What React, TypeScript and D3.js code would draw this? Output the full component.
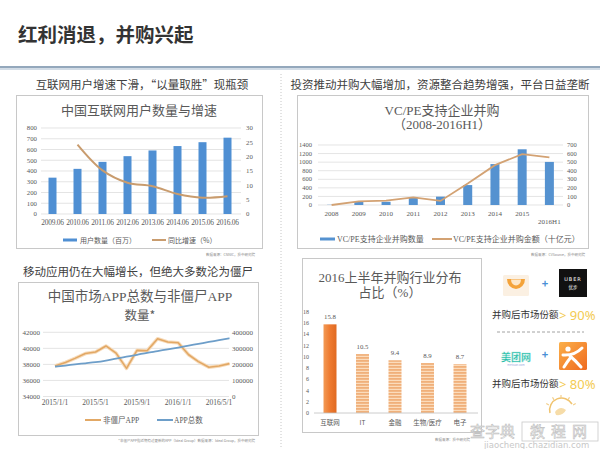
import React from "react";
import * as d3 from "d3";

const CJK = "'Noto Sans CJK SC', 'Noto Sans', sans-serif";
const SERIF = "'Liberation Serif', 'DejaVu Serif', 'Noto Sans CJK SC', serif";

// ---- Chart 1: 中国互联网用户数量与增速
const userCats = ["2009.06", "2010.06", "2011.06", "2012.06", "2013.06", "2014.06", "2015.06", "2016.06"];
const userCounts = [338, 420, 485, 538, 591, 632, 668, 710];
const userGrowth: (number | null)[] = [null, 24.2, 15.2, 10.9, 9.7, 7.0, 5.7, 6.2];

// ---- Chart 2: VC/PE支持企业并购
const mnaYears = ["2008", "2009", "2010", "2011", "2012", "2013", "2014", "2015", "2016H1"];
const mnaCount = [5, 70, 75, 175, 195, 465, 955, 1300, 1005];
const mnaAmount = [0, 43, 50, 88, 48, 250, 465, 593, 555];

// ---- Chart 3: 中国市场APP总数与非僵尸APP数量
const appMonths = [
  "2015/1/1", "2015/2/1", "2015/3/1", "2015/4/1", "2015/5/1", "2015/6/1",
  "2015/7/1", "2015/8/1", "2015/9/1", "2015/10/1", "2015/11/1", "2015/12/1",
  "2016/1/1", "2016/2/1", "2016/3/1", "2016/4/1", "2016/5/1", "2016/6/1",
];
const nonZombieApps = [37800, 38250, 38750, 39350, 39550, 40300, 39400, 37500, 39750, 39700, 41200, 40800, 40700, 39200, 38350, 37650, 37800, 38100];
const totalApps = [186000, 193000, 200000, 207000, 214000, 224000, 236000, 248000, 260000, 272000, 283000, 294000, 305000, 317000, 328000, 340000, 351000, 363000];
const appTickLabels = ["2015/1/1", "2015/5/1", "2015/9/1", "2016/1/1", "2016/5/1"];

// ---- Chart 4: 2016上半年并购行业分布占比
const industries = ["互联网", "IT", "金融", "生物/医疗", "电子"];
const industryShares = [15.8, 10.5, 9.4, 8.9, 8.7];

const parseDate = (s: string) => {
  const [y, m, d] = s.split("/").map(Number);
  return new Date(y, m - 1, d);
};

export default function App() {
  // Chart 1 scales
  const x1 = d3.scaleBand<string>().domain(userCats).range([40, 240]).paddingInner(0.68).paddingOuter(0.34);
  const y1 = d3.scaleLinear().domain([0, 800]).range([214, 128]);
  const y1r = d3.scaleLinear().domain([0, 30]).range([214, 128]);
  const c1 = (c: string) => (x1(c) as number) + x1.bandwidth() / 2;
  const line1 = d3
    .line<number | null>()
    .defined((d) => d != null)
    .x((_, i) => c1(userCats[i]))
    .y((d) => y1r(d as number))
    .curve(d3.curveCatmullRom.alpha(0.5));

  // Chart 2 scales
  const x2 = d3.scaleBand<string>().domain(mnaYears).range([318, 563]).paddingInner(0.67).paddingOuter(0.335);
  const y2 = d3.scaleLinear().domain([0, 1400]).range([205, 145]);
  const y2r = d3.scaleLinear().domain([0, 700]).range([205, 145]);
  const c2 = (c: string) => (x2(c) as number) + x2.bandwidth() / 2;
  const line2 = d3
    .line<number>()
    .x((_, i) => c2(mnaYears[i]))
    .y((d) => y2r(d));

  // Chart 3 scales
  const x3 = d3.scaleTime().domain([parseDate("2015/1/1"), parseDate("2016/5/1")]).range([55, 219]);
  const y3 = d3.scaleLinear().domain([34000, 42000]).range([396.5, 332.3]);
  const y3r = d3.scaleLinear().domain([0, 400000]).range([396.5, 332.3]);
  const dates3 = appMonths.map(parseDate);
  const lineNZ = d3
    .line<number>()
    .x((_, i) => x3(dates3[i]))
    .y((d) => y3(d));
  const lineTot = d3
    .line<number>()
    .x((_, i) => x3(dates3[i]))
    .y((d) => y3r(d))
    .curve(d3.curveMonotoneX);

  // Chart 4 scales
  const x4 = d3.scaleBand<string>().domain(industries).range([313.75, 476.25]).paddingInner(0.6).paddingOuter(0.3);
  const y4 = d3.scaleLinear().domain([0, 18]).range([413, 312]);

  const tickColor = "#595959";
  const gridColor = "#d9d9d9";

  return (
    <svg
      width={600}
      height={449}
      viewBox="0 0 600 449"
      style={{ position: "absolute", left: 0, top: 0, background: "#fff" }}
    >
      <defs>
        <linearGradient id="bar1grad" x1="0" x2="1" y1="0" y2="0">
          <stop offset="0" stopColor="#f39a55" />
          <stop offset="0.5" stopColor="#ee7a30" />
          <stop offset="1" stopColor="#e06a22" />
        </linearGradient>
        <pattern id="stripe" width="4" height="3" patternUnits="userSpaceOnUse">
          <rect width="4" height="3" fill="#fbdcbc" />
          <rect width="4" height="1.8" fill="#f0b07a" />
        </pattern>
        <linearGradient id="dpgrad" x1="0" x2="1" y1="0" y2="1">
          <stop offset="0" stopColor="#fbb04a" />
          <stop offset="1" stopColor="#ef6a1f" />
        </linearGradient>
      </defs>
      <rect x={0} y={0} width={600} height={449} fill="#fff" />

      {/* Header */}
      <text x={18} y={42} fontFamily={CJK} fontSize={19.5} fontWeight={700} fill="#333">
        红利消退，并购兴起
      </text>
      <rect x={0} y={66} width={600} height={2} fill="#94a8bc" />
      <rect x={0} y={68} width={600} height={2} fill="#d2dce6" />

      {/* separator */}
      <line x1={281} x2={281} y1={74} y2={449} stroke="#c6c6c6" strokeDasharray="1,2" />

      {/* ================= Chart 1 ================= */}
      <text x={142} y={89} textAnchor="middle" fontFamily={CJK} fontSize={11.5} fill="#404040">
        互联网用户增速下滑，“以量取胜”现瓶颈
      </text>
      <rect x={16.5} y={95.5} width={246} height={153} fill="none" stroke="#c8c8c8" />
      <text x={139} y={115} textAnchor="middle" fontFamily={CJK} fontSize={13} fill="#595959">
        中国互联网用户数量与增速
      </text>
      {y1.ticks(8).map((t) => (
        <g key={"g1" + t}>
          <line x1={41} x2={241} y1={y1(t)} y2={y1(t)} stroke={gridColor} strokeWidth={0.7} />
          <text x={37} y={y1(t) + 2.3} textAnchor="end" fontFamily={SERIF} fontSize={6.8} fill={tickColor}>
            {t}
          </text>
        </g>
      ))}
      {y1r.ticks(6).map((t) => (
        <text key={"r1" + t} x={246} y={y1r(t) + 2.3} fontFamily={SERIF} fontSize={6.8} fill={tickColor}>
          {t}
        </text>
      ))}
      {userCats.map((c, i) => (
        <rect key={"b1" + c} x={x1(c)} y={y1(userCounts[i])} width={x1.bandwidth()} height={214 - y1(userCounts[i])} fill="#4f8fd3" />
      ))}
      <path d={line1(userGrowth) || ""} fill="none" stroke="#c99c6e" strokeWidth={2} />
      {userCats.map((c) => (
        <text key={"xl1" + c} x={c1(c)} y={225} textAnchor="middle" fontFamily={SERIF} fontSize={7.4} fill={tickColor} letterSpacing={-0.2}>
          {c}
        </text>
      ))}
      <line x1={63} x2={77} y1={240} y2={240} stroke="#4f8fd3" strokeWidth={3} />
      <text x={80} y={242.5} fontFamily={CJK} fontSize={7} fill={tickColor}>
        用户数量（百万）
      </text>
      <line x1={152} x2={166} y1={240} y2={240} stroke="#c99c6e" strokeWidth={2} />
      <text x={168} y={242.5} fontFamily={CJK} fontSize={7} fill={tickColor}>
        同比增速（%）
      </text>
      <text x={255} y={256} textAnchor="end" fontFamily={CJK} fontSize={3.5} fill="#888">
        数据来源：CNNIC，投中研究院
      </text>

      {/* ================= Chart 2 ================= */}
      <text x={440} y={89} textAnchor="middle" fontFamily={CJK} fontSize={11.5} fill="#404040">
        投资推动并购大幅增加，资源整合趋势增强，平台日益垄断
      </text>
      <rect x={297.5} y={95.5} width={291} height={153} fill="none" stroke="#c8c8c8" />
      <text x={442} y={115} textAnchor="middle" fontFamily={SERIF} fontSize={13} fill="#595959">
        VC/PE支持企业并购
      </text>
      <text x={442} y={129} textAnchor="middle" fontFamily={SERIF} fontSize={13} fill="#595959">
        （2008-2016H1）
      </text>
      {y2.ticks(7).map((t) => (
        <g key={"g2" + t}>
          <line x1={318} x2={563} y1={y2(t)} y2={y2(t)} stroke={gridColor} strokeWidth={0.7} />
          <text x={312} y={y2(t) + 2.2} textAnchor="end" fontFamily={SERIF} fontSize={6.5} fill={tickColor}>
            {t}
          </text>
        </g>
      ))}
      {y2r.ticks(7).map((t) => (
        <text key={"r2" + t} x={567} y={y2r(t) + 2.2} fontFamily={SERIF} fontSize={6.5} fill={tickColor}>
          {t}
        </text>
      ))}
      {mnaYears.map((c, i) => (
        <rect key={"b2" + c} x={x2(c)} y={y2(mnaCount[i])} width={x2.bandwidth()} height={205 - y2(mnaCount[i])} fill="#5592d0" />
      ))}
      <path d={line2(mnaAmount) || ""} fill="none" stroke="#d3a273" strokeWidth={1.8} />
      {mnaYears.map((c, i) => (
        <text key={"xl2" + c} x={c2(c)} y={i === mnaYears.length - 1 ? 224 : 215.5} textAnchor="middle" fontFamily={SERIF} fontSize={7} fill={tickColor}>
          {c}
        </text>
      ))}
      <line x1={320} x2={335} y1={239} y2={239} stroke="#5592d0" strokeWidth={3} />
      <text x={337} y={242} fontFamily={SERIF} fontSize={8} fill={tickColor}>
        VC/PE支持企业并购数量
      </text>
      <line x1={432} x2={452} y1={239} y2={239} stroke="#d3a273" strokeWidth={2} />
      <text x={453} y={242} fontFamily={SERIF} fontSize={8} fill={tickColor}>
        VC/PE支持企业并购金额（十亿元）
      </text>
      <text x={585} y={256} textAnchor="end" fontFamily={CJK} fontSize={3.5} fill="#888">
        数据来源：CVSource，投中研究院
      </text>

      {/* ================= Chart 3 ================= */}
      <text x={138} y={276} textAnchor="middle" fontFamily={CJK} fontSize={11.5} fill="#404040">
        移动应用仍在大幅增长，但绝大多数沦为僵尸
      </text>
      <rect x={18.5} y={282.5} width={240} height={153} fill="none" stroke="#c8c8c8" />
      <text x={140} y={301} textAnchor="middle" fontFamily={SERIF} fontSize={13.5} fill="#595959">
        中国市场APP总数与非僵尸APP
      </text>
      <text x={140} y={320} textAnchor="middle" fontFamily={CJK} fontSize={12.5} fill="#595959">
        数量*
      </text>
      {y3.ticks(4).map((t) => (
        <g key={"g3" + t}>
          <line x1={43} x2={229} y1={y3(t)} y2={y3(t)} stroke={gridColor} strokeWidth={0.7} />
          <text x={40} y={y3(t) + 2.3} textAnchor="end" fontFamily={SERIF} fontSize={7} fill={tickColor}>
            {t}
          </text>
        </g>
      ))}
      {y3r.ticks(4).map((t) => (
        <text key={"r3" + t} x={232} y={y3r(t) + 2.3} fontFamily={SERIF} fontSize={7} fill={tickColor}>
          {t}
        </text>
      ))}
      <path d={lineNZ(nonZombieApps) || ""} fill="none" stroke="#f7dcbc" strokeWidth={3.5} strokeLinejoin="round" />
      <path d={lineNZ(nonZombieApps) || ""} fill="none" stroke="#e2a865" strokeWidth={1.6} strokeLinejoin="round" />
      <path d={lineTot(totalApps) || ""} fill="none" stroke="#6d9ec9" strokeWidth={1.8} />
      {appTickLabels.map((l) => (
        <text key={"xl3" + l} x={x3(parseDate(l))} y={405} textAnchor="middle" fontFamily={SERIF} fontSize={7.5} fill={tickColor}>
          {l}
        </text>
      ))}
      <line x1={85} x2={101} y1={420} y2={420} stroke="#e2a865" strokeWidth={2} />
      <text x={103} y={422.5} fontFamily={SERIF} fontSize={7.5} fill={tickColor}>
        非僵尸APP
      </text>
      <line x1={157} x2={173} y1={420} y2={420} stroke="#6d9ec9" strokeWidth={2} />
      <text x={174} y={422.5} fontFamily={SERIF} fontSize={7.5} fill={tickColor}>
        APP总数
      </text>
      <text x={255} y={442} textAnchor="end" fontFamily={CJK} fontSize={3.5} fill="#888">
        *非僵尸APP指近期有过更新的APP（Ideal Group）数据来源：Ideal Group，投中研究院
      </text>

      {/* ================= Chart 4 ================= */}
      <rect x={302.5} y={258.5} width={179} height={174} fill="none" stroke="#c8c8c8" />
      <text x={390} y={282} textAnchor="middle" fontFamily={SERIF} fontSize={13} fill="#595959">
        2016上半年并购行业分布
      </text>
      <text x={390} y={297} textAnchor="middle" fontFamily={SERIF} fontSize={13} fill="#595959">
        占比（%）
      </text>
      {y4.ticks(9).map((t) => (
        <text key={"t4" + t} x={309} y={y4(t) + 2} textAnchor="end" fontFamily={SERIF} fontSize={6} fill={tickColor}>
          {t}
        </text>
      ))}
      {industries.map((c, i) => (
        <g key={"b4" + c}>
          <rect
            x={x4(c)}
            y={y4(industryShares[i])}
            width={x4.bandwidth()}
            height={413 - y4(industryShares[i])}
            fill={i === 0 ? "url(#bar1grad)" : "url(#stripe)"}
          />
          <text x={(x4(c) as number) + x4.bandwidth() / 2} y={y4(industryShares[i]) - 5} textAnchor="middle" fontFamily={SERIF} fontSize={6.8} fill={tickColor}>
            {industryShares[i]}
          </text>
          <text x={(x4(c) as number) + x4.bandwidth() / 2} y={425} textAnchor="middle" fontFamily={CJK} fontSize={6.5} fill={tickColor}>
            {c}
          </text>
        </g>
      ))}
      <line x1={314} x2={478} y1={413} y2={413} stroke="#bfbfbf" strokeWidth={0.8} />
      <text x={470} y={441} textAnchor="end" fontFamily={CJK} fontSize={3.5} fill="#888">
        数据来源：投中研究院
      </text>

      {/* ================= Right panel ================= */}
      <rect x={503} y={275} width={26} height={21} fill="#fbf0e2" rx={1.5} />
      <path d="M507,279 L525,279 A9,10 0 0 1 507,279 Z" fill="#f4a33a" />
      <path d="M511,279.5 L521,279.5 A5,6 0 0 1 511,279.5 Z" fill="#fde7c8" />
      <text x={545} y={288} textAnchor="middle" fontFamily={CJK} fontSize={11} fontWeight={700} fill="#4a8fd6">
        +
      </text>
      <rect x={559} y={269} width={28} height={28} fill="#111" />
      <text x={573} y={281} textAnchor="middle" fontFamily="'DejaVu Sans', sans-serif" fontSize={5} letterSpacing={1} fill="#fff">
        UBER
      </text>
      <text x={573} y={289} textAnchor="middle" fontFamily={CJK} fontSize={4.5} fill="#fff">
        优步
      </text>
      <text x={492} y={318} fontFamily={CJK} fontSize={9.5} fill="#333">
        并购后市场份额
      </text>
      <text x={559} y={319.5} fontFamily={"'Noto Sans', sans-serif"} fontSize={13} fill="#f3cb52">
        {"> 90%"}
      </text>
      <line x1={497} x2={584} y1={332} y2={332} stroke="#8a8a8a" strokeWidth={0.8} strokeDasharray="3,2" />

      <text x={516} y={361} textAnchor="middle" fontFamily={CJK} fontSize={10} fontWeight={700} fill="#28bba6" stroke="#bfeee6" strokeWidth={0.3}>
        美团网
      </text>
      <text x={516} y={366} textAnchor="middle" fontFamily={CJK} fontSize={2.8} fill="#9ad">
        meituan.com
      </text>
      <text x={545} y={359} textAnchor="middle" fontFamily={CJK} fontSize={11} fontWeight={700} fill="#4a8fd6">
        +
      </text>
      <rect x={559} y={342} width={28} height={28} rx={1.5} fill="url(#dpgrad)" />
      <circle cx={568} cy={349} r={2.6} fill="#fff" />
      <path d="M563,355 Q574,356 582,348" fill="none" stroke="#fff" strokeWidth={3} strokeLinecap="round" />
      <path d="M570,356 Q576,361 581,367" fill="none" stroke="#fff" strokeWidth={3} strokeLinecap="round" />
      <path d="M571,357 Q567,362 564,367" fill="none" stroke="#fff" strokeWidth={3} strokeLinecap="round" />
      <text x={492} y={387} fontFamily={CJK} fontSize={9.5} fill="#333">
        并购后市场份额
      </text>
      <text x={559} y={388.5} fontFamily={"'Noto Sans', sans-serif"} fontSize={13} fill="#f3cb52">
        {"> 80%"}
      </text>

      {/* decorative sun icon */}
      <path d="M550,413 A12,12 0 0 1 572,404" fill="none" stroke="#f0c36e" strokeWidth={1.5} />
      <path d="M555,412 Q560,405 566,410 Q563,416 556,415 Z" fill="#f6dca8" />
      {[-150, -120, -90, -60, -30].map((a) => {
        const r = (a * Math.PI) / 180;
        return (
          <line
            key={"ray" + a}
            x1={561 + 14 * Math.cos(r)}
            y1={412 + 14 * Math.sin(r)}
            x2={561 + 17 * Math.cos(r)}
            y2={412 + 17 * Math.sin(r)}
            stroke="#f3cf8a"
            strokeWidth={1.2}
          />
        );
      })}

      {/* watermark */}
      <text x={470} y={437} fontFamily={CJK} fontSize={15} fill="#f2f2f2" stroke="#b8b8b8" strokeWidth={0.5}>
        查字典
      </text>
      <rect x={522} y={422} width={76} height={19} fill="none" stroke="#c8c8c8" strokeWidth={0.8} />
      <text x={530} y={437} fontFamily={CJK} fontSize={15} letterSpacing={6} fill="#f2f2f2" stroke="#b8b8b8" strokeWidth={0.5}>
        教程网
      </text>
      <text x={484} y={448} fontFamily={"'DejaVu Sans', sans-serif"} fontSize={8.5} fill="#c8c8c8">
        jiaocheng.chazidian.com
      </text>
    </svg>
  );
}
